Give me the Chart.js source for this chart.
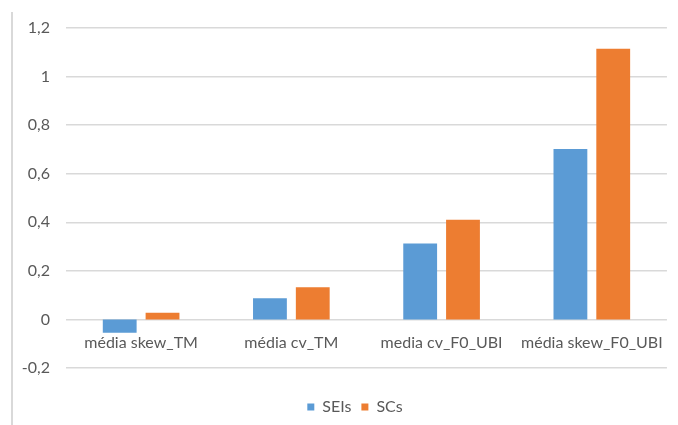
<!DOCTYPE html>
<html><head><meta charset="utf-8">
<script src="https://cdn.jsdelivr.net/npm/chart.js@4"></script>
<style>
html,body{margin:0;padding:0;background:#fff;}
#wrap{position:relative;width:678px;height:425px;}
#frame{position:absolute;left:11px;top:12px;width:2px;height:413px;background:#d9d9d9;}
canvas{position:absolute;left:0;top:0;}
</style></head>
<body>
<div id="wrap"><div id="frame"></div><canvas id="c" width="678" height="425"></canvas></div>
<script>
const categories = ["média skew_TM", "média cv_TM", "media cv_F0_UBI", "média skew_F0_UBI"];
const seriesNames = ["SEIs", "SCs"];
const seisValues = [-0.055, 0.087, 0.313, 0.702];
const scsValues = [0.028, 0.133, 0.410, 1.115];
const yMin = -0.2, yMax = 1.2, yStep = 0.2;

const FONT = "Lato, 'Open Sans', sans-serif";
const legendShift = {
  id: 'legendShift',
  afterLayout(chart) {
    if (chart.legend) { chart.legend.left += 20; chart.legend.right += 20; }
  }
};
new Chart(document.getElementById('c'), {
  type: 'bar',
  plugins: [legendShift],
  data: {
    labels: categories,
    datasets: [
      { label: seriesNames[0], data: seisValues, backgroundColor: '#5B9BD5', categoryPercentage: 0.57, barPercentage: 0.79 },
      { label: seriesNames[1], data: scsValues, backgroundColor: '#ED7D31', categoryPercentage: 0.57, barPercentage: 0.79 }
    ]
  },
  options: {
    responsive: false,
    animation: false,
    devicePixelRatio: 1,
    layout: { padding: { top: 28, right: 8, left: 0, bottom: 0 } },
    plugins: {
      tooltip: { enabled: false },
      legend: {
        position: 'bottom',
        labels: { boxWidth: 7, boxHeight: 7, color: '#595959', font: { family: FONT, size: 16 }, padding: 10 }
      }
    },
    scales: {
      x: {
        position: { y: 0 },
        grid: { display: false, drawTicks: false },
        border: { display: false },
        ticks: { color: '#595959', font: { family: FONT, size: 16 }, padding: 14, maxRotation: 0, autoSkip: false }
      },
      xSpace: {
        type: 'category',
        labels: [''],
        position: 'bottom',
        grid: { display: false, drawTicks: false },
        border: { display: false },
        ticks: { display: false },
        afterFit: s => { s.height = 21; }
      },
      y: {
        min: yMin, max: yMax,
        grid: { color: '#d9d9d9', lineWidth: 1.5, drawTicks: false },
        border: { display: false },
        ticks: {
          stepSize: yStep, color: '#595959', font: { family: FONT, size: 16 }, padding: 16,
          callback: v => { const r = Math.round(v * 10) / 10; return String(r).replace('.', ','); }
        },
        afterFit: s => { s.width = 66; }
      }
    }
  }
});
</script>
</body></html>
